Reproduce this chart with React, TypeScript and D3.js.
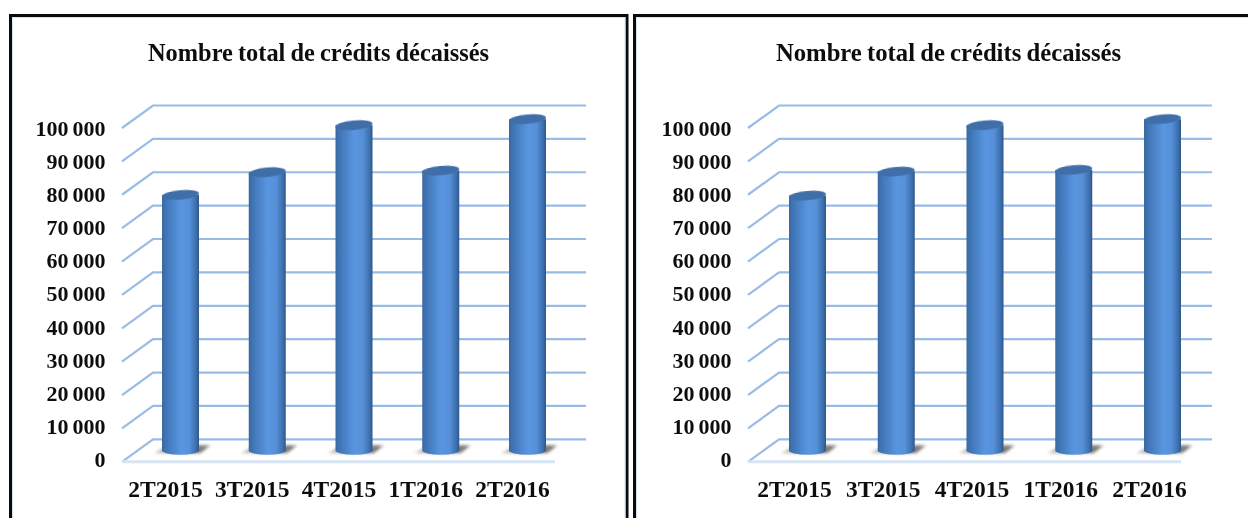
import { scaleBand, scaleLinear, format } from 'd3';

const categories = ['2T2015', '3T2015', '4T2015', '1T2016', '2T2016'];
const leftValues = [76500, 83300, 97400, 83800, 99200];
const rightValues = [76300, 83500, 97400, 84000, 99200];
const ticks = [0, 10000, 20000, 30000, 40000, 50000, 60000, 70000, 80000, 90000, 100000];
const chartTitle = 'Nombre total de crédits décaissés';

const FONT = '"Liberation Serif", "Times New Roman", serif';
const fmt = (v: number) => format(',')(v).replace(',', ' ');

interface PanelProps {
  id: string;
  values: number[];
  frontX: number; // front left corner of the floor
  barStart: number; // left edge of the first bar
  barStep: number;
  labelShift: number;
  titleX: number;
  titleSize: number;
}

function Panel({ id, values, frontX, barStart, barStep, labelShift, titleX, titleSize }: PanelProps) {
  const depthX = 31;
  const depthY = 22.5;
  const wallWidth = 433;
  const barWidth = 37;
  const backX = frontX + depthX;
  const y = scaleLinear().domain([0, 100000]).range([439.3, 105.5]);
  const labelY = scaleLinear().domain([0, 100000]).range([459.5, 128.5]);
  const x = scaleBand<string>()
    .domain(categories)
    .range([barStart, barStart + barStep * (categories.length - 1) + barWidth])
    .paddingInner(1 - barWidth / barStep)
    .paddingOuter(0);
  const w = x.bandwidth();
  const baseShift = 11; // bars stand in the middle of the floor depth

  return (
    <g>
      <text x={titleX} y={61} textAnchor="middle" fontFamily={FONT} fontWeight="bold" fontSize={titleSize} wordSpacing={-1} fill="#111" filter="url(#soft)">
        {chartTitle}
      </text>
      {ticks.map((t) => (
        <g key={t}>
          <path
            d={`M${frontX},${y(t) + depthY}L${backX},${y(t)}H${backX + wallWidth}`}
            fill="none"
            stroke="#98bce6"
            strokeWidth={2.2}
            filter="url(#soft)"
          />
          <text
            x={frontX - 16.5}
            y={labelY(t)}
            dy="0.34em"
            textAnchor="end"
            fontFamily={FONT}
            fontWeight="bold"
            fontSize={22}
            wordSpacing={-1.5}
            fill="#111"
            filter="url(#soft)"
          >
            {fmt(t)}
          </text>
        </g>
      ))}
      <line x1={frontX} x2={frontX + wallWidth} y1={y(0) + depthY} y2={y(0) + depthY} stroke="#d6e4f4" strokeWidth={3} />
      {categories.map((c, i) => {
        const left = x(c) as number;
        const right = left + w;
        const cx = left + w / 2;
        const base = y(0) + baseShift;
        const top = y(values[i]) + baseShift;
        return (
          <g key={c}>
            <path
              d={`M${left - 8},${base + 3}L${left + 6},${base - 5}H${right + 12}L${right + 1},${base + 3}Z`}
              fill={`url(#${id}-shadow)`}
              filter="url(#shade)"
            />
            <path
              d={`M${left},${top}V${base}A${w / 2},4.5 0 0 0 ${right},${base}V${top}Z`}
              fill="url(#cyl)"
              filter="url(#edge)"
            />
            <ellipse
              cx={cx}
              cy={top}
              rx={w / 2}
              ry={4.7}
              fill="#3f6ea8"
              transform={`rotate(-5 ${cx} ${top})`}
              filter="url(#edge)"
            />
            <text
              x={cx + labelShift}
              y={497}
              textAnchor="middle"
              fontFamily={FONT}
              fontWeight="bold"
              fontSize={23.5}
              fill="#111"
              filter="url(#soft)"
            >
              {c}
            </text>
          </g>
        );
      })}
      <linearGradient id={`${id}-shadow`} x1="0" x2="1" y1="0" y2="0">
        <stop offset="0" stopColor="#d8d5d0" />
        <stop offset="0.3" stopColor="#a09b95" />
        <stop offset="0.88" stopColor="#7d7872" />
        <stop offset="1" stopColor="#c4c0ba" />
      </linearGradient>
    </g>
  );
}

export default function App() {
  return (
    <svg width={1248} height={518} style={{ position: 'absolute', left: 0, top: 0, display: 'block', background: '#fff' }}>
      <defs>
        <filter id="soft" x="-10%" y="-30%" width="120%" height="160%">
          <feGaussianBlur stdDeviation="0.45" />
        </filter>
        <filter id="edge" x="-10%" y="-10%" width="120%" height="120%">
          <feGaussianBlur stdDeviation="0.35" />
        </filter>
        <filter id="shade" x="-20%" y="-50%" width="140%" height="200%">
          <feGaussianBlur stdDeviation="1.5" />
        </filter>
        <linearGradient id="cyl" x1="0" x2="1" y1="0" y2="0">
          <stop offset="0" stopColor="#3a689f" />
          <stop offset="0.12" stopColor="#4076b8" />
          <stop offset="0.52" stopColor="#5a96e0" />
          <stop offset="0.74" stopColor="#5590d8" />
          <stop offset="0.92" stopColor="#3d6fae" />
          <stop offset="1" stopColor="#2f5687" />
        </linearGradient>
      </defs>
      {/* frames */}
      <path d="M10.5,518V15.5H627V518" fill="none" stroke="#0a0a0a" strokeWidth={3} />
      <path d="M634.5,518V15.5H1248" fill="none" stroke="#0a0a0a" strokeWidth={3} />
      <path d="M12.5,518V17.5H625V518" fill="none" stroke="#d4e2f2" strokeWidth={1} />
      <path d="M636.5,518V17.5H1248" fill="none" stroke="#d4e2f2" strokeWidth={1} />
      <Panel id="a" values={leftValues} frontX={122} barStart={162} barStep={86.75} labelShift={-15} titleX={318.5} titleSize={24.4} />
      <Panel id="b" values={rightValues} frontX={748} barStart={789} barStep={88.75} labelShift={-13} titleX={948.5} titleSize={24.7} />
    </svg>
  );
}
